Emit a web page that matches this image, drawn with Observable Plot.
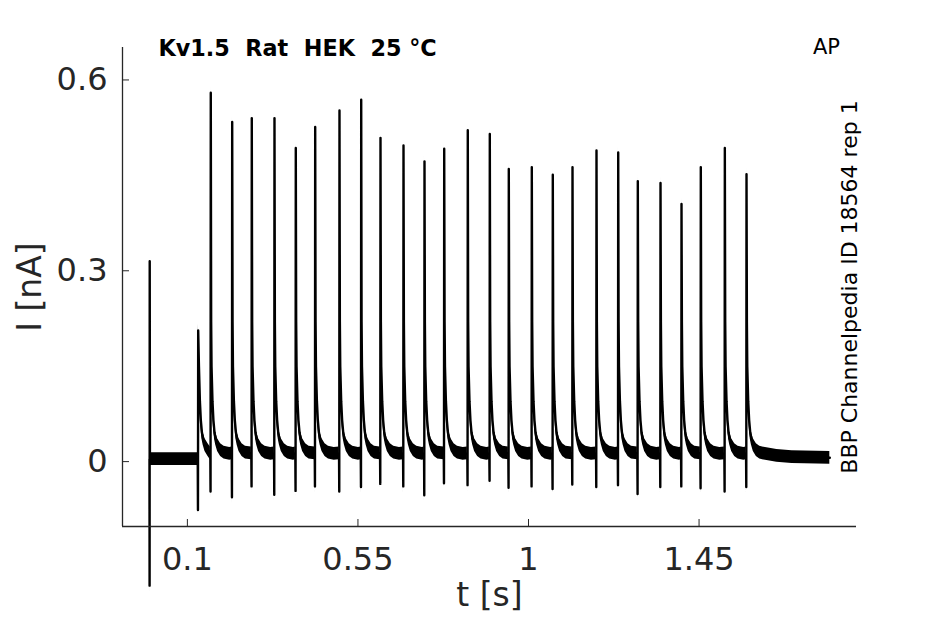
<!DOCTYPE html>
<html>
<head>
<meta charset="utf-8">
<script src="https://cdn.jsdelivr.net/npm/d3@7"></script>
<script src="https://cdn.jsdelivr.net/npm/@observablehq/plot@0.6"></script>
<style>
  html, body { margin: 0; padding: 0; background: white; }
  #chart svg { display: block; overflow: visible; }
</style>
</head>
<body>
<div id="chart"></div>
<script>
// ---- text ----
const titleText = "Kv1.5\u00A0\u00A0Rat\u00A0\u00A0HEK\u00A0\u00A025\u00A0°C";
const protocolText = "AP";
const sideText = "BBP Channelpedia ID 18564 rep 1";
const xLabel = "t [s]";
const yLabel = "I [nA]";

// ---- axes ----
const xDomain = [-0.0712, 1.8654];
const yDomain = [-0.102, 0.651];
const xTicks = [0.1, 0.55, 1, 1.45];
const xTickLabels = ["0.1", "0.55", "1", "1.45"];
const yTicks = [0, 0.3, 0.6];
const yTickLabels = ["0", "0.3", "0.6"];

// ---- recording ----
// capacitive transient at stimulus onset
const transientT = [0, 0.0003, 0.0006, 0.0012];
const transientV = [0.004, -0.195, 0.315, 0.004];
// AP-evoked current spikes: time (s), peak (nA), negative tip (nA)
const spikeT = [0.1285, 0.1617, 0.2182, 0.2699, 0.3298, 0.3860, 0.4372, 0.5013, 0.5586,
  0.6095, 0.6702, 0.7256, 0.7776, 0.8398, 0.8979, 0.9480, 1.0087, 1.0641, 1.1161,
  1.1794, 1.2367, 1.2884, 1.3483, 1.4037, 1.4546, 1.5180, 1.5752];
const spikePeak = [0.206, 0.580, 0.534, 0.540, 0.540, 0.493, 0.526, 0.552, 0.569,
  0.509, 0.497, 0.472, 0.492, 0.521, 0.515, 0.460, 0.463, 0.451, 0.463,
  0.489, 0.486, 0.441, 0.438, 0.405, 0.463, 0.493, 0.452];
const spikeMin = [-0.076, -0.047, -0.056, -0.039, -0.052, -0.046, -0.039, -0.047, -0.040,
  -0.035, -0.039, -0.053, -0.034, -0.037, -0.030, -0.041, -0.039, -0.043, -0.036,
  -0.040, -0.037, -0.051, -0.040, -0.039, -0.042, -0.047, -0.040];
// decay tail after each spike: offset (s) and current (nA)
const tailDt = [0.001, 0.002, 0.0045, 0.007, 0.010, 0.013, 0.018, 0.026, 0.035, 0.050, 0.080, 0.120];
const tailV  = [0.22, 0.15, 0.095, 0.065, 0.045, 0.036, 0.026, 0.018, 0.014, 0.012, 0.009, 0.007];
const preSpikeV = 0.013;   // level just before each spike's sharp dip
const baselineV = 0.004;
const endT = 1.795;
const endV = 0.006;
const noiseHalf = 0.010; // half-width of recording noise band (nA)

// ---- assemble trace table ----
const trace = transientT.map((t, i) => ({t, v: transientV[i]}));
spikeT.forEach((t, i) => {
  const next = i < spikeT.length - 1 ? spikeT[i + 1] : endT;
  trace.push({t: t - 0.0012, v: i === 0 ? baselineV : preSpikeV});
  trace.push({t: t - 0.0006, v: spikeMin[i]});
  trace.push({t, v: spikePeak[i]});
  tailDt.forEach((dt, j) => {
    if (t + dt < next - 0.002 && tailV[j] < spikePeak[i]) trace.push({t: t + dt, v: tailV[j]});
  });
});
trace.push({t: endT, v: endV});

const axisColor = "#262626";

const chart = Plot.plot({
  width: 945,
  height: 624,
  marginLeft: 122,
  marginRight: 89,
  marginTop: 47,
  marginBottom: 98,
  style: {fontFamily: "DejaVu Sans", background: "white", overflow: "visible"},
  x: {domain: xDomain},
  y: {domain: yDomain},
  marks: [
    Plot.areaY(trace, {x: "t", y1: d => d.v - noiseHalf, y2: d => d.v + noiseHalf, fill: "black"}),
    Plot.line(trace, {x: "t", y: "v", stroke: "black", strokeWidth: 2.4}),
    Plot.ruleX([xDomain[0]], {stroke: axisColor, strokeWidth: 1.3}),
    Plot.ruleY([yDomain[0]], {stroke: axisColor, strokeWidth: 1.3}),
    Plot.axisX(xTicks, {
      tickSize: -7, tickPadding: 28, fontSize: 32, color: axisColor, label: null,
      tickFormat: d => xTickLabels[xTicks.indexOf(d)]
    }),
    Plot.axisY(yTicks, {
      tickSize: -7, tickPadding: 22, fontSize: 32, color: axisColor, label: null,
      tickFormat: d => yTickLabels[yTicks.indexOf(d)]
    }),
    Plot.text([xLabel], {frameAnchor: "bottom", dy: 79, fontSize: 33, fill: axisColor}),
    Plot.text([yLabel], {frameAnchor: "left", dx: -92, rotate: -90, textAnchor: "middle",
      fontSize: 33, fill: axisColor}),
    Plot.text([titleText], {frameAnchor: "top-left", dx: 36, dy: -7, textAnchor: "start",
      fontWeight: "bold", fontSize: 22.3, fill: "black"}),
    Plot.text([protocolText], {frameAnchor: "top-right", dx: -30, dy: -8, textAnchor: "middle",
      fontSize: 21, fill: "black"}),
    Plot.text([sideText], {frameAnchor: "right", dx: -7, rotate: -90, textAnchor: "middle",
      fontSize: 22, fill: "black"})
  ]
});
document.getElementById("chart").appendChild(chart);
</script>
</body>
</html>
